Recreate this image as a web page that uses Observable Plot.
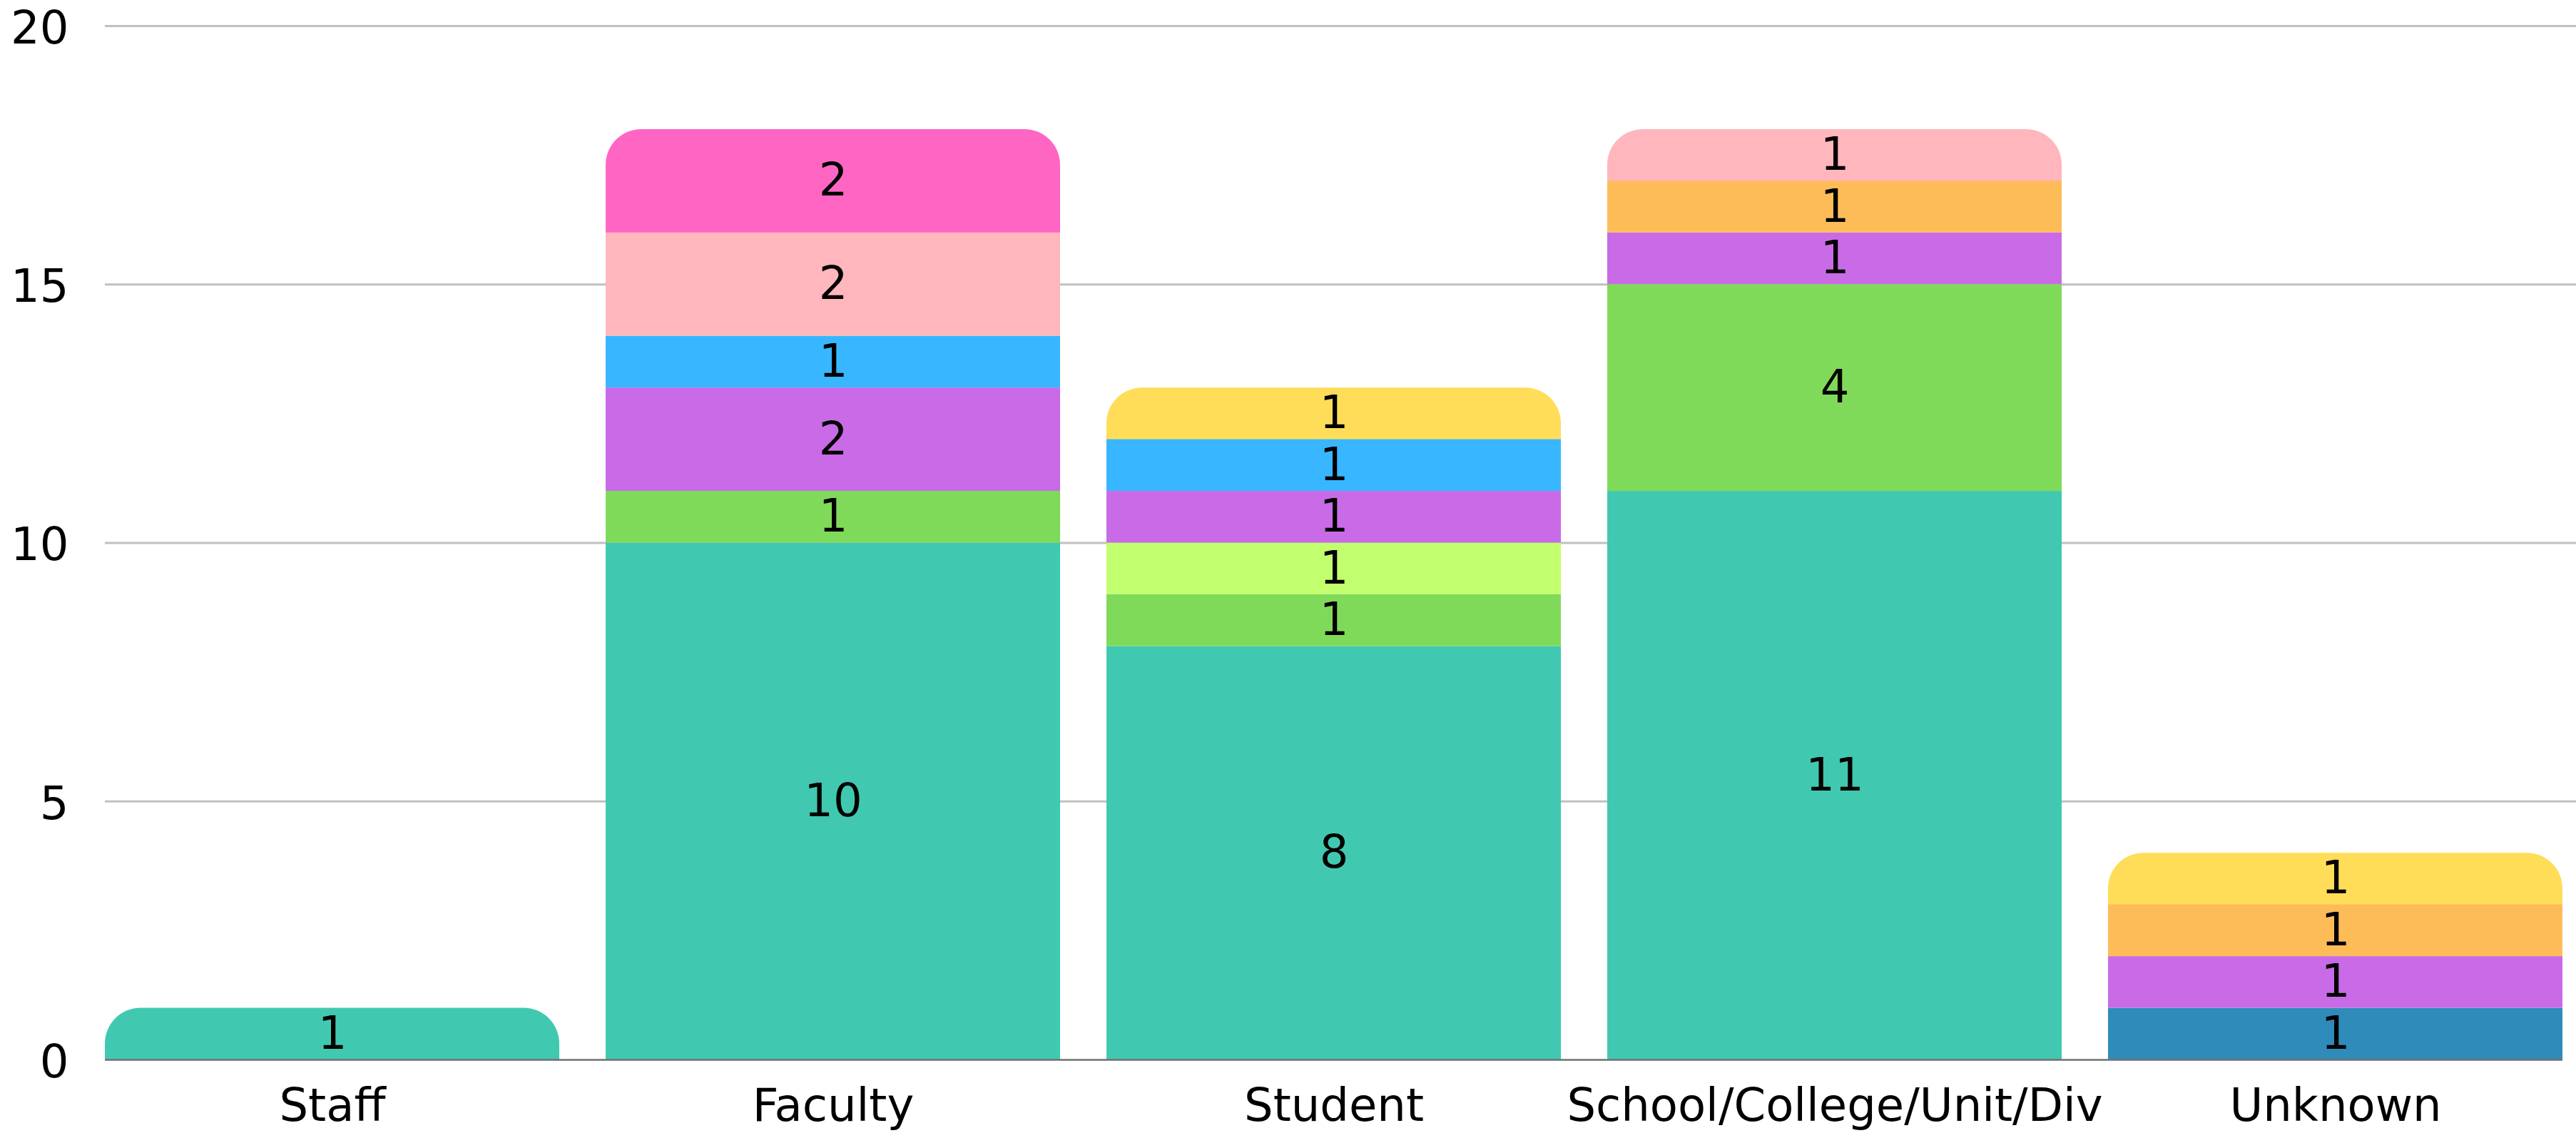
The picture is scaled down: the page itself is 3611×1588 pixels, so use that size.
<!DOCTYPE html>
<html>
<head>
<meta charset="utf-8">
<script src="https://cdn.jsdelivr.net/npm/d3@7"></script>
<script src="https://cdn.jsdelivr.net/npm/@observablehq/plot@0.6"></script>
<style>
  html, body { margin: 0; padding: 0; background: #ffffff; }
  #chart { width: 3611px; height: 1588px; }
</style>
</head>
<body>
<div id="chart"></div>
<script>
const categories = ["Staff", "Faculty", "Student", "School/College/Unit/Div", "Unknown"];
const seriesNames = ["Type 1", "Type 2", "Type 3", "Type 4", "Type 5", "Type 6", "Type 7", "Type 8", "Type 9", "Type 10"];
const seriesColors = ["#40c9b0", "#2e8bba", "#80da5a", "#c2ff6f", "#c96be6", "#38b6ff", "#febc59", "#ffdd59", "#ffb6bc", "#ff66c4"];
// values per series, one per category (Staff, Faculty, Student, School/College/Unit/Div, Unknown)
const type1 = [1, 10, 8, 11, 0];
const type2 = [0, 0, 0, 0, 1];
const type3 = [0, 1, 1, 4, 0];
const type4 = [0, 0, 1, 0, 0];
const type5 = [0, 2, 1, 1, 1];
const type6 = [0, 1, 1, 0, 0];
const type7 = [0, 0, 0, 1, 1];
const type8 = [0, 0, 1, 0, 1];
const type9 = [0, 2, 0, 1, 0];
const type10 = [0, 2, 0, 0, 0];
const yTicks = [0, 5, 10, 15, 20];

const seriesValues = [type1, type2, type3, type4, type5, type6, type7, type8, type9, type10];
const rows = [];
seriesNames.forEach((s, si) => {
  categories.forEach((c, ci) => {
    const v = seriesValues[si][ci];
    if (v > 0) rows.push({cat: c, series: s, value: v});
  });
});
// mark the top segment of each bar
categories.forEach(c => {
  const segs = rows.filter(r => r.cat === c);
  segs.forEach((r, i) => r.top = (i === segs.length - 1));
});

const W = 3611, H = 1588;
const R = 50;
const base = {x: "cat", y: "value", fill: "series"};

const chart = Plot.plot({
  width: W,
  height: H,
  marginTop: 36,
  marginBottom: 103,
  marginLeft: 147,
  marginRight: 0,
  style: {fontFamily: "DejaVu Sans", fontSize: "64px", background: "#ffffff", color: "#000000"},
  x: {domain: categories, range: [147, 3592], paddingInner: 0.0926, paddingOuter: 0, label: null},
  y: {domain: [0, 20], label: null},
  color: {domain: seriesNames, range: seriesColors},
  marks: [
    Plot.ruleY(yTicks.filter(t => t > 0), {stroke: "#c0c0c0", strokeWidth: 3}),
    Plot.axisY({ticks: yTicks, tickSize: 0, tickPadding: 51, label: null, fontSize: 64, dy: 4}),
    Plot.axisX({tickSize: 0, tickPadding: 40, label: null, fontSize: 64}),
    // rounded top segments, extended downward so only their top corners show
    Plot.barY(rows, Plot.filter(d => d.top, Plot.stackY({...base, rx: R, ry: R, insetBottom: -R, clip: true}))),
    Plot.barY(rows, Plot.filter(d => !d.top, Plot.stackY(base))),
    Plot.ruleY([0], {stroke: "#707070", strokeWidth: 2.5, insetRight: W - 3592}),
    Plot.text(rows, Plot.stackY({x: "cat", y: "value", text: d => String(d.value), fill: "#000000", fontSize: 64}))
  ]
});
document.getElementById("chart").appendChild(chart);
</script>
</body>
</html>
